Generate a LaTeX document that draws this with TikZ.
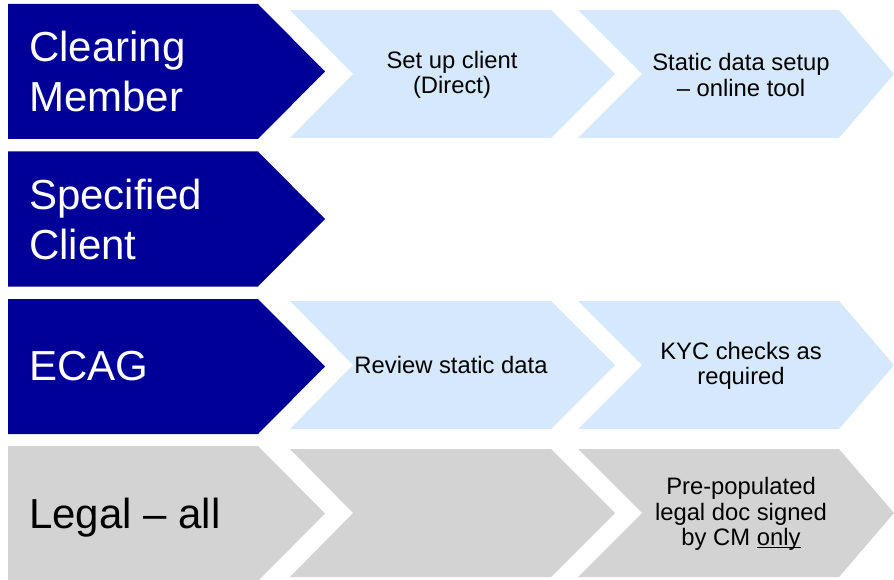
\documentclass[tikz,border=0pt]{standalone}
\usepackage{fontspec}
\setmainfont{Liberation Sans}
\usetikzlibrary{positioning}

\definecolor{ecagblue}{RGB}{0,0,153}
\definecolor{steplight}{RGB}{214,232,252}
\definecolor{stepgrey}{RGB}{211,211,211}

\newcommand{\ulword}[1]{\setbox0\hbox{#1}\rlap{\rule[-2.5pt]{\wd0}{1.3pt}}\box0}

\tikzset{
  biglabel/.style={anchor=west,align=left,inner sep=0pt,font=\fontsize{42}{50}\selectfont},
  smalllabel/.style={align=center,inner sep=0pt,font=\fontsize{23.8}{25.5}\selectfont},
}

\begin{document}
\begin{tikzpicture}[x=1pt,y=-1pt]
  \useasboundingbox (0,0) rectangle (894,580);
  % row heads
  \fill[ecagblue] (8,4) -- (258,4) -- (325,71.5) -- (258,139) -- (8,139) -- cycle;
  \fill[ecagblue] (8,151.5) -- (258,151.5) -- (325,219) -- (258,286.5) -- (8,286.5) -- cycle;
  \fill[ecagblue] (8,299) -- (258,299) -- (325,366.5) -- (258,434) -- (8,434) -- cycle;
  \fill[stepgrey] (8,446) -- (258,446) -- (325,513.5) -- (258,581) -- (8,581) -- cycle;
  % steps
  \fill[steplight] (290,10) -- (551,10) -- (615,74) -- (551,138) -- (290,138) -- (353,74) -- cycle;
  \fill[steplight] (578,10) -- (839,10) -- (894,74) -- (839,138) -- (578,138) -- (642,74) -- cycle;
  \fill[steplight] (290,301) -- (551,301) -- (615,365) -- (551,429) -- (290,429) -- (353,365) -- cycle;
  \fill[steplight] (578,301) -- (839,301) -- (894,365) -- (839,429) -- (578,429) -- (642,365) -- cycle;
  \fill[stepgrey] (290,449) -- (551,449) -- (615,513) -- (551,577) -- (290,577) -- (353,513) -- cycle;
  \fill[stepgrey] (578,449) -- (839,449) -- (894,513) -- (839,577) -- (578,577) -- (642,513) -- cycle;
  % labels
  \node[biglabel,text=white] (cm) at (29,71.5) {Clearing\\Member};
  \node[biglabel,text=white] (client) at (29,219) {Specified\\Client};
  \node[biglabel,text=white] (ecag) at (29,366.5) {ECAG};
  \node[biglabel] (legal) at (29,518) {Legal -- all};
  \node[smalllabel] (setup) at (452,75) {Set up client\\(Direct)};
  \node[smalllabel] (static) at (741,75) {Static data setup\\-- online tool};
  \node[smalllabel] (review) at (451,365) {Review static data};
  \node[smalllabel] (kyc) at (741,366) {KYC checks as\\required};
  \node[smalllabel] (legaldoc) at (741,514) {Pre-populated\\legal doc signed\\by CM \ulword{only}};
\end{tikzpicture}
\end{document}
